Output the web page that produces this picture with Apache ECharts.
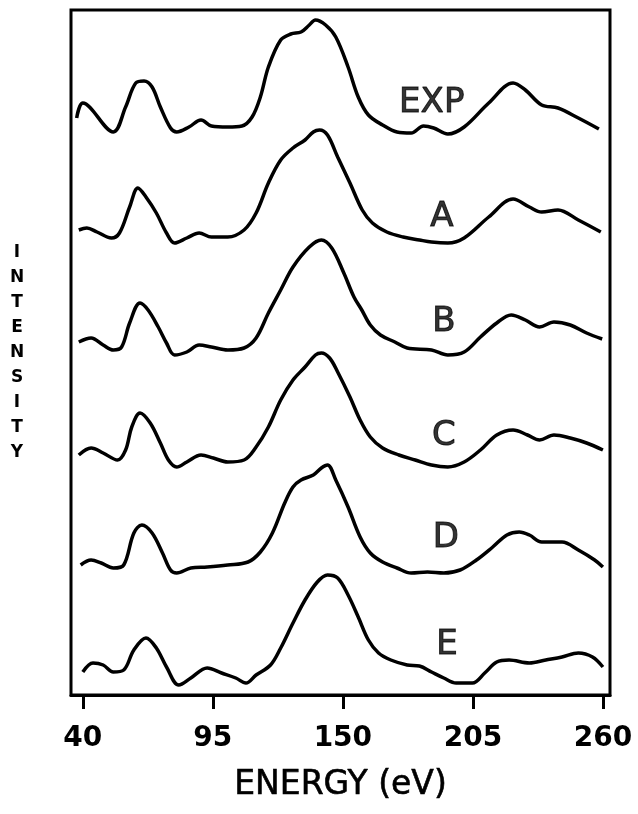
<!DOCTYPE html>
<html><head><meta charset="utf-8">
<script src="https://cdn.jsdelivr.net/npm/echarts@6/dist/echarts.min.js"></script>
<style>html,body{margin:0;padding:0;background:#fff}#c{width:638px;height:814px}</style>
</head><body><div id="c"></div>
<script>
// x axis ticks (energy, eV)
const tickValues = [40, 95, 150, 205, 260];

// EXP curve
const expE = [37.4,40.0,52.9,58.1,62.4,65.9,69.3,72.8,77.1,79.7,84.9,90.0,94.4,101.3,107.3,111.6,115.1,118.5,123.7,128.0,132.3,135.8,138.4,142.7,147.0,152.2,156.5,160.8,166.8,172.9,178.9,184.1,188.4,194.4,201.3,211.7,222.0,227.2,234.1,241.0,249.6,258.3];
const expI = [57.7,59.2,56.3,58.8,61.2,61.4,60.8,58.8,56.7,56.3,56.8,57.5,56.9,56.8,56.9,57.8,59.8,62.8,65.5,66.1,66.3,67.0,67.5,67.0,65.8,62.8,59.8,58.0,57.0,56.3,56.2,56.9,56.7,56.1,56.8,59.2,61.2,60.5,59.0,58.7,57.7,56.6];

// A curve
const aE = [38.3,41.7,46.0,52.1,55.5,59.8,63.3,66.7,71.1,75.4,78.8,84.0,89.2,94.4,101.3,108.2,113.3,118.5,123.7,128.9,134.0,137.5,140.1,143.5,147.8,153.0,158.2,162.5,168.6,175.5,182.4,187.5,194.4,201.3,211.7,222.0,228.9,234.1,241.0,249.6,259.1];
const aI = [46.5,46.7,46.3,45.7,46.2,48.8,50.7,49.8,48.2,46.2,45.2,45.7,46.2,45.8,45.8,46.5,48.2,51.2,53.5,54.7,55.5,56.3,56.5,56.0,53.8,51.2,48.5,47.2,46.3,45.8,45.5,45.3,45.2,45.7,47.8,49.6,48.8,48.3,48.5,47.5,46.3];

// B curve
const bE = [38.3,43.5,48.6,52.9,56.4,59.8,64.2,67.6,71.9,75.4,78.8,84.0,89.2,94.4,101.3,108.2,113.3,118.5,123.7,128.9,135.8,140.9,145.3,150.4,154.7,158.0,161.6,165.9,172.0,177.2,187.5,194.4,201.3,208.2,215.1,221.2,227.2,233.2,239.3,246.2,253.1,259.7];
const bI = [35.3,35.7,35.0,34.5,34.8,37.2,39.2,38.5,36.8,35.2,34.0,34.3,35.0,34.8,34.5,34.7,35.7,38.2,40.5,42.8,44.8,45.5,44.7,42.2,39.8,38.5,37.0,36.0,35.3,34.7,34.5,34.0,34.3,35.8,37.2,38.0,37.5,36.8,37.3,37.0,36.2,35.6];

// C curve
const cE = [38.3,43.5,48.6,54.7,58.1,60.7,64.2,68.5,72.8,76.2,79.7,84.0,90.0,95.2,101.3,108.2,113.3,118.5,123.7,128.9,134.0,138.4,140.9,144.4,147.8,153.0,157.3,161.6,166.8,173.7,180.6,187.5,194.4,201.3,208.2,215.1,222.0,228.1,233.2,239.3,246.2,253.1,260.0];
const cI = [24.0,24.7,24.2,23.5,24.5,26.8,28.2,27.2,25.2,23.5,22.8,23.3,24.0,23.7,23.3,23.5,24.8,26.8,29.5,31.5,32.8,34.0,34.2,33.7,32.3,29.8,27.5,25.8,24.7,24.0,23.5,23.0,22.8,23.3,24.5,26.0,26.5,26.0,25.5,26.0,25.7,25.2,24.5];

// D curve
const dE = [39.1,43.5,47.8,52.9,57.3,61.6,65.0,69.3,73.7,77.1,79.7,85.7,92.6,101.3,109.9,115.1,120.2,125.4,128.9,132.3,137.5,140.9,143.5,147.0,152.2,157.3,161.6,166.8,172.9,178.9,185.8,192.7,199.6,206.5,213.4,219.4,224.6,228.9,234.1,242.7,249.6,256.5,260.0];
const dI = [13.0,13.5,13.2,12.7,13.0,16.2,17.0,16.2,14.2,12.5,12.2,12.7,12.8,13.0,13.3,14.3,16.2,19.2,20.8,21.5,22.0,22.7,23.0,21.5,18.8,15.8,14.2,13.3,12.7,12.2,12.3,12.2,12.5,13.5,14.8,16.0,16.3,16.0,15.3,15.3,14.5,13.5,12.8];

// E curve
const eE = [40.0,44.3,48.6,52.9,57.3,61.6,66.7,71.1,75.4,80.6,85.7,92.6,98.7,104.7,109.0,113.3,119.4,123.7,128.9,134.0,139.2,143.5,147.8,152.2,156.5,160.8,165.1,170.3,177.2,182.4,187.5,192.7,197.9,204.8,210.0,215.1,220.3,228.9,235.8,242.7,249.6,255.6,260.0];
const eI = [2.3,3.2,3.0,2.3,2.5,4.5,5.7,4.7,2.8,1.0,1.7,2.7,2.2,1.7,1.2,2.0,3.0,4.7,7.2,9.5,11.3,12.0,11.7,10.0,7.8,5.5,4.2,3.5,3.0,2.9,2.3,1.7,1.2,1.2,2.2,3.3,3.5,3.2,3.5,3.8,4.2,3.8,2.8];

// curve labels
const labelNames = ['EXP', 'A', 'B', 'C', 'D', 'E'];
const labelE = [187.6, 191.9, 192.7, 192.7, 193.6, 194.0];
const labelI = [59.2, 47.8, 37.3, 25.9, 15.7, 5.0];

const xName = 'ENERGY (eV)';
const yName = 'INTENSITY';

const curves = [[expE, expI], [aE, aI], [bE, bI], [cE, cI], [dE, dI], [eE, eI]];
const series = curves.map(([e, v], k) => ({
  type: 'line',
  name: labelNames[k],
  data: e.map((x, i) => [x, v[i]]),
  smooth: 0.35,
  showSymbol: false,
  symbol: 'none',
  lineStyle: { color: '#000', width: 3.5 },
  silent: true
}));
series.push({
  type: 'scatter',
  data: labelE.map((x, i) => ({ value: [x, labelI[i]], name: labelNames[i] })),
  symbolSize: 1,
  itemStyle: { color: 'rgba(0,0,0,0)' },
  label: {
    show: true, position: 'inside', formatter: p => p.name,
    color: '#000', fontSize: 34, fontFamily: 'DejaVu Sans',
    textBorderColor: '#000', textBorderWidth: 1
  },
  silent: true
});

const chart = echarts.init(document.getElementById('c'), null, { renderer: 'canvas' });
chart.setOption({
  animation: false,
  backgroundColor: '#fff',
  grid: {
    left: 71, right: 28, top: 10, bottom: 119,
    show: true, borderColor: '#000', borderWidth: 3, backgroundColor: 'transparent',
    containLabel: false, outerBoundsMode: 'none'
  },
  xAxis: {
    type: 'value', min: 35, max: 263,
    axisLine: { show: true, onZero: false, lineStyle: { color: '#000', width: 3 } },
    axisTick: { show: true, customValues: tickValues, length: 14, inside: false, lineStyle: { color: '#000', width: 3 } },
    axisLabel: { show: true, customValues: tickValues, margin: 30, color: '#000', fontSize: 28, fontWeight: 'bold', fontFamily: 'DejaVu Sans' },
    splitLine: { show: false },
    name: xName, nameLocation: 'middle', nameGap: 74,
    nameTextStyle: { color: '#000', fontSize: 33, fontFamily: 'DejaVu Sans', textBorderColor: '#000', textBorderWidth: 0.6 }
  },
  yAxis: {
    type: 'value', min: 0, max: 68.5,
    axisLine: { show: false }, axisTick: { show: false }, axisLabel: { show: false },
    splitLine: { show: false },
    name: yName.split('').join('\n'), nameLocation: 'middle', nameRotate: 0, nameGap: 54,
    nameTextStyle: { color: '#000', fontSize: 17, fontWeight: 'bold', fontFamily: 'DejaVu Sans', lineHeight: 25, align: 'center', verticalAlign: 'middle' }
  },
  series: series
});
</script>
</body></html>
